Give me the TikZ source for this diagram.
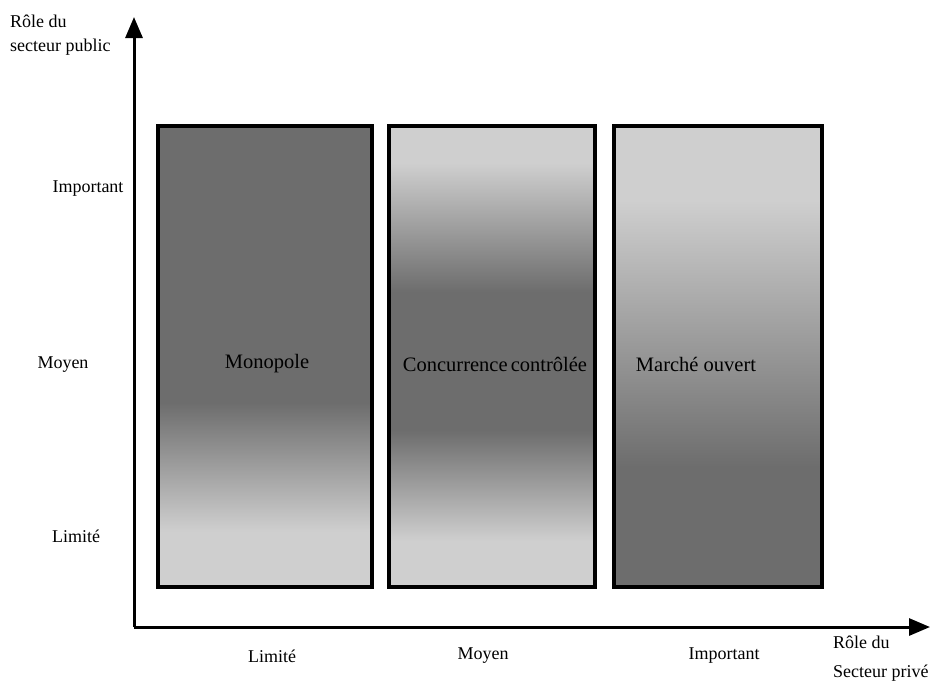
\documentclass[tikz,border=0pt]{standalone}
\usepackage{fontspec}
\setmainfont{Liberation Serif}
\usetikzlibrary{arrows.meta}
\definecolor{dk}{RGB}{109,109,109}
\definecolor{lt}{RGB}{207,207,207}
% TikZ maps 25bp..75bp of a shading onto the path (bottom..top)
\pgfdeclareverticalshading{shadeA}{100bp}{color(0bp)=(lt); color(31bp)=(lt); color(45bp)=(dk); color(100bp)=(dk)}
\pgfdeclareverticalshading{shadeB}{100bp}{color(0bp)=(lt); color(30bp)=(lt); color(42bp)=(dk); color(57bp)=(dk); color(71bp)=(lt); color(100bp)=(lt)}
\pgfdeclareverticalshading{shadeC}{100bp}{color(0bp)=(dk); color(38bp)=(dk); color(67bp)=(lt); color(100bp)=(lt)}
\begin{document}
\begin{tikzpicture}[x=1pt,y=-1pt,
  axis/.style={line width=3pt,-{Triangle[length=21pt,width=17pt]}},
  zone/.style={draw=black,line width=3.2pt,minimum height=461pt,inner sep=0pt,shade},
  axlab/.style={font=\fontsize{18}{21}\selectfont,inner sep=0pt},
  boxlab/.style={font=\fontsize{20.5}{24}\selectfont,inner sep=0pt},
  corner/.style={font=\fontsize{18}{24}\selectfont,align=left,inner sep=0pt,anchor=north west}]
\useasboundingbox (0,0) rectangle (932,683);
\coordinate (O) at (134,627);
\coordinate (Ytip) at (134,17);
\coordinate (Xtip) at (930,627);
\draw[axis] (O) -- (Ytip);
\draw[axis] (O) -- (Xtip);
% zones
\node[zone,shading=shadeA,minimum width=214pt] (z1) at (265,356.5) {};
\node[zone,shading=shadeB,minimum width=206pt] (z2) at (492,356.5) {};
\node[zone,shading=shadeC,minimum width=208pt] (z3) at (718,356.5) {};
\node[boxlab] (l1) at (267,364) {Monopole};
\node[boxlab] (l2) at (495,364) {Concurrence\kern-2pt\ contrôlée};
\node[boxlab] (l3) at (696,364) {Marché ouvert};
% vertical axis labels
\node[axlab] (vi) at (88,189) {Important};
\node[axlab] (vm) at (63,365) {Moyen};
\node[axlab] (vl) at (76,536) {Limité};
% horizontal axis labels
\node[axlab] (hl) at (272,656) {Limité};
\node[axlab] (hm) at (483,656) {Moyen};
\node[axlab] (hi) at (724,656) {Important};
% axis titles
\node[corner] (ty) at (10,15) {Rôle du\\secteur public};
\node[corner,font=\fontsize{18}{29}\selectfont] (tx) at (833,636) {Rôle du\\Secteur privé};
\end{tikzpicture}
\end{document}
